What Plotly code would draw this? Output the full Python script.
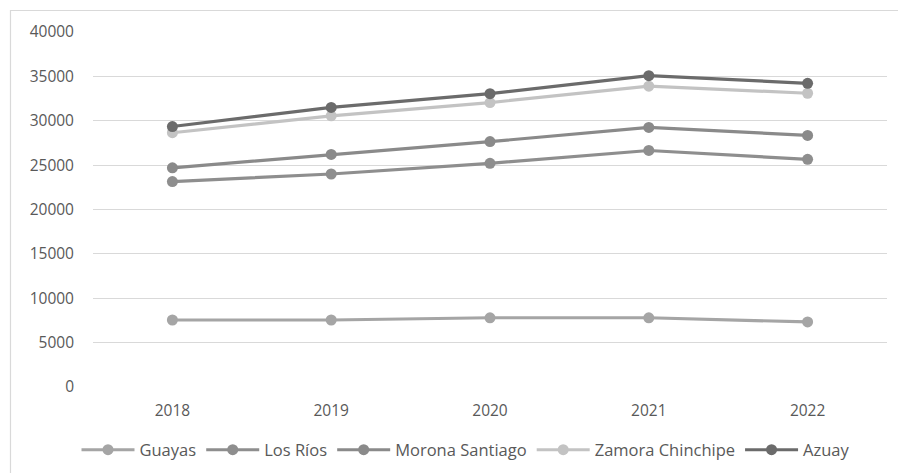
import plotly.graph_objects as go

years = ["2018", "2019", "2020", "2021", "2022"]
series_names = ["Guayas", "Los Ríos", "Morona Santiago", "Zamora Chinchipe", "Azuay"]
guayas = [7550, 7550, 7800, 7800, 7330]
los_rios = [23150, 24000, 25200, 26650, 25650]
morona = [24700, 26200, 27650, 29250, 28350]
zamora = [28650, 30550, 32050, 33900, 33100]
azuay = [29350, 31500, 33050, 35080, 34220]
y_ticks = [0, 5000, 10000, 15000, 20000, 25000, 30000, 35000, 40000]

values = [guayas, los_rios, morona, zamora, azuay]
colors = ["#a5a5a5", "#8e8e8e", "#8a8a8a", "#c3c3c3", "#6b6b6b"]

W, H = 898, 473
L, R, T, B = 93, 11, 32, 86

fig = go.Figure()
for name, vals, col in zip(series_names, values, colors):
    fig.add_trace(go.Scatter(
        x=years, y=vals, name=name, mode="lines+markers",
        line=dict(color=col, width=3.2),
        marker=dict(color=col, size=11),
        hoverinfo="skip",
    ))

pw, ph = W - L - R, H - T - B
def px2x(p):
    return (p - L) / pw
def py2y(p):
    return (H - B - p) / ph

fig.add_shape(type="rect", xref="paper", yref="paper",
              x0=px2x(10.5), x1=px2x(960), y0=py2y(10.5), y1=py2y(540),
              line=dict(color="#d9d9d9", width=1.2), fillcolor="rgba(0,0,0,0)",
              layer="below")

font = "Open Sans, sans-serif"
fig.update_layout(
    width=W, height=H,
    margin=dict(l=L, r=R, t=T, b=B, pad=0, autoexpand=False),
    paper_bgcolor="white", plot_bgcolor="white",
    showlegend=True,
    legend=dict(orientation="h", x=px2x(466), xanchor="center", y=py2y(450), yanchor="middle",
                font=dict(family=font, size=16.5, color="#595959"),
                itemwidth=53, tracegroupgap=0, bgcolor="rgba(0,0,0,0)"),
    xaxis=dict(type="category", range=[-0.5, 4.5], showgrid=False, zeroline=False, showline=False,
               ticks="", tickfont=dict(family=font, size=15.5, color="#595959"),
               ticklabelstandoff=12),
    yaxis=dict(range=[0, 40000], tickvals=y_ticks, ticktext=[str(v) for v in y_ticks],
               showgrid=True, gridcolor="#d9d9d9", gridwidth=1, zeroline=False,
               showline=False, ticks="",
               tickfont=dict(family=font, size=15.5, color="#595959"),
               ticklabelstandoff=18),
)

fig.write_html("out.html", config={"displayModeBar": False},
               post_script="document.body.style.margin='0';document.body.style.padding='0';document.body.style.overflow='hidden';")
